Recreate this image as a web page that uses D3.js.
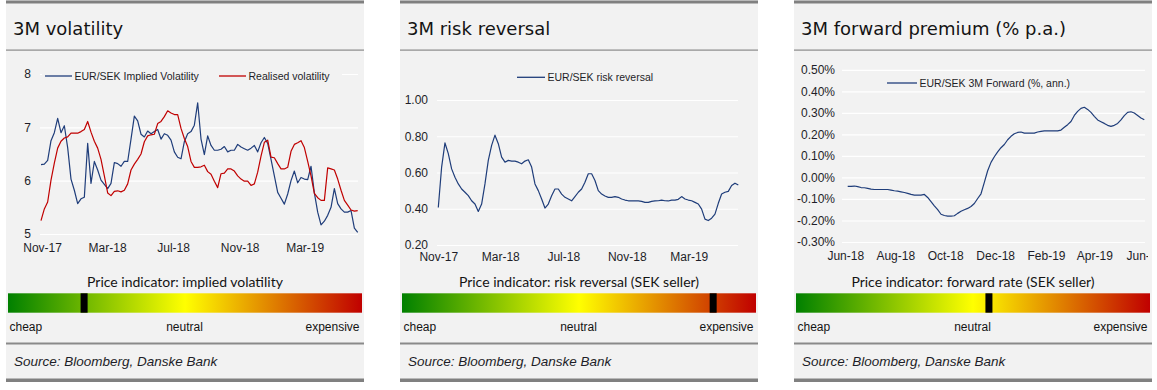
<!DOCTYPE html>
<html><head><meta charset="utf-8">
<script src="https://cdn.jsdelivr.net/npm/d3@7"></script>
<style>
body{margin:0;background:#fff;}
svg{display:block;}
</style></head><body>
<svg id="c" width="1157" height="390"></svg>
<script>
// ---------- DATA ----------
// Panel 1: 3M volatility (evenly spaced observations between start and end)
const volStart = "2017-10-30", volEnd = "2019-06-07";
const volImplied = [
6.30,6.31,6.38,6.75,6.90,7.17,6.90,7.03,6.62,6.03,
5.82,5.57,5.66,5.69,6.70,5.95,6.36,6.20,6.01,5.93,
5.85,5.95,6.34,6.32,6.27,6.36,6.36,6.78,7.21,7.12,
6.87,6.82,6.93,6.88,6.92,6.96,6.78,6.88,6.85,6.76,
6.54,6.44,6.41,6.73,6.88,6.92,7.04,7.46,6.78,6.49,
6.84,6.66,6.57,6.57,6.59,6.64,6.54,6.57,6.57,6.68,
6.63,6.60,6.57,6.61,6.66,6.54,6.71,6.81,6.70,6.40,
6.09,5.78,5.67,5.56,5.75,6.00,6.18,5.96,6.06,6.03,
6.02,6.27,5.77,5.41,5.17,5.24,5.35,5.50,5.85,5.57,
5.47,5.41,5.41,5.44,5.11,5.03];
const volRealised = [
5.25,5.47,5.60,6.01,6.33,6.61,6.74,6.80,6.82,6.89,
6.89,6.89,6.92,6.96,7.11,6.91,6.74,6.61,6.40,6.09,
5.77,5.72,5.80,5.81,5.79,5.82,5.94,6.20,6.31,6.40,
6.50,6.73,6.84,6.86,6.87,7.07,7.11,7.20,7.31,7.27,
7.24,7.24,6.98,6.79,6.64,6.36,6.25,6.25,6.26,6.29,
6.17,6.12,5.99,5.87,6.13,6.14,6.22,6.22,6.18,6.09,
6.03,5.99,5.99,5.91,5.94,6.16,6.46,6.72,6.76,6.44,
6.43,6.32,6.22,6.22,6.25,6.55,6.68,6.71,6.75,6.62,
6.36,6.09,5.76,5.68,5.63,5.63,6.24,6.22,6.20,6.03,
5.82,5.63,5.54,5.45,5.43,5.44];
const volYTicks = [5, 6, 7, 8];
const volXTickDates = ["2017-11-01","2018-03-01","2018-07-01","2018-11-01","2019-03-01"];
const volXTickLabels = ["Nov-17","Mar-18","Jul-18","Nov-18","Mar-19"];
const volSeriesNames = ["EUR/SEK Implied Volatility", "Realised volatility"];

// Panel 2: 3M risk reversal
const rrStart = "2017-11-01", rrEnd = "2019-06-05";
const rrValues = [
0.407,0.630,0.763,0.704,0.620,0.574,0.537,0.509,0.491,0.472,
0.444,0.426,0.385,0.426,0.537,0.667,0.750,0.806,0.759,0.685,
0.657,0.667,0.663,0.663,0.657,0.648,0.663,0.670,0.630,0.537,
0.500,0.454,0.404,0.426,0.472,0.509,0.509,0.481,0.463,0.454,
0.444,0.467,0.491,0.509,0.546,0.593,0.593,0.556,0.500,0.481,
0.470,0.463,0.463,0.467,0.463,0.454,0.448,0.444,0.444,0.443,
0.443,0.441,0.435,0.435,0.441,0.443,0.444,0.448,0.444,0.443,
0.448,0.448,0.452,0.467,0.454,0.448,0.444,0.435,0.426,0.398,
0.343,0.335,0.348,0.370,0.430,0.481,0.491,0.496,0.528,0.541,
0.531];
const rrYTicks = [0.2, 0.4, 0.6, 0.8, 1.0];
const rrXTickDates = ["2017-11-01","2018-03-01","2018-07-01","2018-11-01","2019-03-01"];
const rrXTickLabels = ["Nov-17","Mar-18","Jul-18","Nov-18","Mar-19"];
const rrSeriesName = "EUR/SEK risk reversal";

// Panel 3: 3M forward premium (% p.a.)
const fwdStart = "2018-06-04", fwdEnd = "2019-06-01";
const fwdValues = [
-0.042,-0.042,-0.040,-0.043,-0.047,-0.048,-0.051,-0.054,-0.056,-0.056,
-0.056,-0.056,-0.056,-0.059,-0.062,-0.064,-0.067,-0.070,-0.074,-0.079,
-0.082,-0.082,-0.082,-0.079,-0.093,-0.112,-0.132,-0.150,-0.171,-0.177,
-0.180,-0.180,-0.178,-0.167,-0.157,-0.150,-0.144,-0.135,-0.121,-0.098,
-0.076,-0.023,0.031,0.070,0.096,0.119,0.138,0.153,0.175,0.191,
0.203,0.209,0.211,0.206,0.206,0.206,0.206,0.211,0.214,0.216,
0.216,0.216,0.216,0.216,0.220,0.233,0.245,0.260,0.288,0.307,
0.321,0.326,0.316,0.302,0.284,0.267,0.259,0.251,0.242,0.237,
0.242,0.251,0.267,0.287,0.302,0.305,0.299,0.288,0.276,0.268];
const fwdYTicks = [-0.3,-0.2,-0.1,0.0,0.1,0.2,0.3,0.4,0.5];
const fwdXTickDates = ["2018-06-01","2018-08-01","2018-10-01","2018-12-01","2019-02-01","2019-04-01","2019-06-01"];
const fwdXTickLabels = ["Jun-18","Aug-18","Oct-18","Dec-18","Feb-19","Apr-19","Jun-19"];
const fwdSeriesName = "EUR/SEK 3M Forward (%, ann.)";

// Price indicators (0 = cheap, 1 = expensive)
const indicatorTitles = ["Price indicator: implied volatility", "Price indicator: risk reversal (SEK seller)", "Price indicator: forward rate (SEK seller)"];
const indicatorValues = [0.215, 0.879, 0.545];
const indicatorLabels = ["cheap", "neutral", "expensive"];
const panelTitles = ["3M volatility", "3M risk reversal", "3M forward premium (% p.a.)"];
const sourceText = "Source: Bloomberg, Danske Bank";

// ---------- DRAWING ----------
const svg = d3.select("#c");
const parse = d3.utcParse("%Y-%m-%d");
const PW = 358;
const AXFONT = "'Liberation Sans', Arial, sans-serif";
const BLUE = "#1f3d7a", RED = "#c00000";

const defs = svg.append("defs");
const grad = defs.append("linearGradient").attr("id", "ind").attr("x1", "0").attr("x2", "1").attr("y1", "0").attr("y2", "0");
grad.append("stop").attr("offset", "0").attr("stop-color", "#008000");
grad.append("stop").attr("offset", "0.5").attr("stop-color", "#ffff00");
grad.append("stop").attr("offset", "1").attr("stop-color", "#c00000");
// clip for x-axis labels (the last label of the forward chart is cut at the panel edge, as in the source)
defs.append("clipPath").attr("id", "pclip").append("rect").attr("x", 0).attr("y", -30).attr("width", 354).attr("height", 60);

function spread(values, start, end) {
  const t = d3.scaleLinear().domain([0, values.length - 1]).range([+parse(start), +parse(end)]);
  return values.map((v, i) => ({ date: new Date(t(i)), v }));
}

function drawPanel(idx, ox, cfg) {
  const g = svg.append("g").attr("transform", `translate(${ox},0)`);
  g.append("rect").attr("width", PW).attr("height", 382).attr("fill", "#f2f2f2");
  g.append("rect").attr("y", 0.5).attr("width", PW).attr("height", 3).attr("fill", "#808080");
  g.append("rect").attr("y", 49.5).attr("width", PW).attr("height", 1.2).attr("fill", "#8a8a8a");
  g.append("text").attr("x", 7).attr("y", 35).text(panelTitles[idx])
    .attr("font-family", "'DejaVu Sans', sans-serif").attr("font-size", 18).attr("fill", "#141414");

  const x = d3.scaleUtc().domain([parse(cfg.start), parse(cfg.end)]).range(cfg.xRange);
  const y = d3.scaleLinear().domain(cfg.yDomain).range(cfg.yRange);

  // gridlines
  const grid = g.append("g").attr("transform", `translate(${cfg.gridX[0]},0)`)
    .call(d3.axisLeft(y).tickValues(cfg.yTicks).tickSize(-(cfg.gridX[1] - cfg.gridX[0])).tickFormat(""));
  grid.select(".domain").remove();
  grid.selectAll("line").attr("stroke", "#ffffff").attr("stroke-width", 1.2);

  // y labels
  const ya = g.append("g").attr("transform", `translate(${cfg.yLabelX},0)`)
    .call(d3.axisLeft(y).tickValues(cfg.yTicks).tickSize(0).tickPadding(0).tickFormat(cfg.yFmt));
  ya.select(".domain").remove();
  ya.selectAll("text").attr("font-family", AXFONT).attr("font-size", 12).attr("fill", "#1e1e28");

  // x labels
  const xa = g.append("g").attr("transform", `translate(0,${cfg.xLabelY})`)
    .attr("clip-path", "url(#pclip)")
    .call(d3.axisBottom(x).tickValues(cfg.xTickDates.map(parse)).tickSize(0).tickPadding(0)
      .tickFormat((d, i) => cfg.xTickLabels[i]));
  xa.select(".domain").remove();
  xa.selectAll("text").attr("dy", null).attr("y", 0)
    .attr("font-family", AXFONT).attr("font-size", 12).attr("fill", "#1e1e28");

  // legend
  if (cfg.legendBg) {
    g.append("rect").attr("x", cfg.legendBg[0]).attr("y", cfg.legendBg[1])
      .attr("width", cfg.legendBg[2]).attr("height", cfg.legendBg[3]).attr("fill", "#f2f2f2");
  }
  cfg.series.forEach(s => {
    const lg = s.legend;
    g.append("line").attr("x1", lg[0]).attr("x2", lg[1]).attr("y1", lg[2]).attr("y2", lg[2])
      .attr("stroke", s.color).attr("stroke-width", 1.3);
    g.append("text").attr("x", lg[1] + 2.5).attr("y", lg[2] + 3.8).text(s.name)
      .attr("font-family", AXFONT).attr("font-size", 10.5).attr("fill", "#1e1e28");
  });

  // lines
  const line = d3.line().x(d => x(d.date)).y(d => y(d.v)).curve(d3.curveLinear);
  cfg.series.forEach(s => {
    g.append("path").datum(s.data).attr("d", line).attr("fill", "none")
      .attr("stroke", s.color).attr("stroke-width", 1.2).attr("stroke-linejoin", "round");
  });

  // price indicator
  g.append("text").attr("x", 179).attr("y", 287).attr("text-anchor", "middle").text(indicatorTitles[idx])
    .attr("font-family", "Lato, 'Open Sans', sans-serif").attr("font-size", 14).attr("fill", "#141414");
  const ix = d3.scaleLinear().domain([0, 1]).range([2, 356]);
  g.append("rect").attr("x", ix(0)).attr("y", 293.3).attr("width", ix(1) - ix(0)).attr("height", 19.4).attr("fill", "url(#ind)");
  g.append("rect").attr("x", ix(indicatorValues[idx]) - 3.5).attr("y", 293.3).attr("width", 7).attr("height", 19.4).attr("fill", "#000");
  const lx = [3.5, 178.5, 353.5], la = ["start", "middle", "end"];
  indicatorLabels.forEach((t, i) => {
    g.append("text").attr("x", lx[i]).attr("y", 331).attr("text-anchor", la[i]).text(t)
      .attr("font-family", AXFONT).attr("font-size", 12).attr("fill", "#141414");
  });

  g.append("rect").attr("y", 342.5).attr("width", PW).attr("height", 2).attr("fill", "#8a8a8a");
  g.append("text").attr("x", 8).attr("y", 366).text(sourceText)
    .attr("font-family", AXFONT).attr("font-style", "italic").attr("font-size", 13.5).attr("fill", "#1e1e28");
  g.append("rect").attr("y", 378.5).attr("width", PW).attr("height", 3.5).attr("fill", "#808080");
}

drawPanel(0, 6, {
  start: volStart, end: volEnd, xRange: [35, 351.7],
  yDomain: [5, 8], yRange: [234, 74], yTicks: volYTicks, yFmt: d => String(d),
  gridX: [34, 352], yLabelX: 25, xLabelY: 252,
  xTickDates: volXTickDates, xTickLabels: volXTickLabels,
  legendBg: [36, 68, 300, 16],
  series: [
    { name: volSeriesNames[0], color: BLUE, data: spread(volImplied, volStart, volEnd), legend: [39, 66, 76] },
    { name: volSeriesNames[1], color: RED, data: spread(volRealised, volStart, volEnd), legend: [213, 240, 76] }
  ]
});

drawPanel(1, 400, {
  start: rrStart, end: rrEnd, xRange: [38.3, 338.3],
  yDomain: [0.2, 1.0], yRange: [245, 100], yTicks: rrYTicks, yFmt: d => d.toFixed(2),
  gridX: [37, 338], yLabelX: 28, xLabelY: 261,
  xTickDates: rrXTickDates, xTickLabels: rrXTickLabels,
  series: [
    { name: rrSeriesName, color: BLUE, data: spread(rrValues, rrStart, rrEnd), legend: [117, 145, 77.3] }
  ]
});

drawPanel(2, 794, {
  start: fwdStart, end: fwdEnd, xRange: [53.7, 350.3],
  yDomain: [-0.3, 0.5], yRange: [242, 69.8], yTicks: fwdYTicks, yFmt: d => d.toFixed(2) + "%",
  gridX: [48, 351], yLabelX: 41, xLabelY: 260,
  xTickDates: fwdXTickDates, xTickLabels: fwdXTickLabels,
  series: [
    { name: fwdSeriesName, color: BLUE, data: spread(fwdValues, fwdStart, fwdEnd), legend: [93, 123, 83] }
  ]
});
</script>
</body></html>
